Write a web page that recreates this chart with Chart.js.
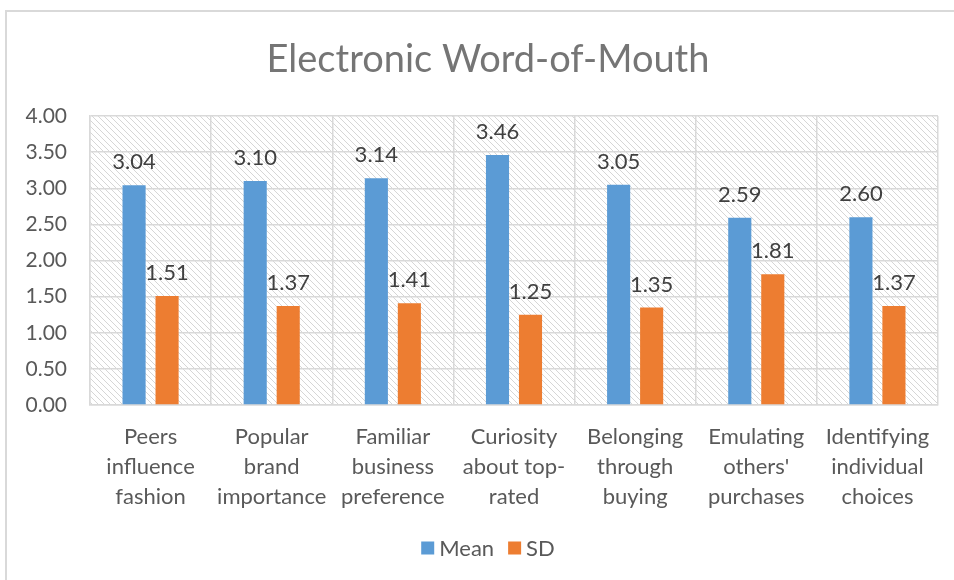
<!DOCTYPE html>
<html>
<head>
<meta charset="utf-8">
<script src="https://cdn.jsdelivr.net/npm/chart.js@4.4.1/dist/chart.umd.min.js"></script>
<style>
  html, body { margin: 0; padding: 0; background: #fff; }
  #wrap { position: absolute; left: 0; top: 0; width: 954px; height: 580px; }
  #frame { position: absolute; left: 5px; top: 10px; width: 1000px; height: 700px; border-left: 2px solid #d9d9d9; border-top: 2px solid #d9d9d9; box-sizing: border-box; pointer-events: none; }
  canvas { position: absolute; left: 0; top: 0; }
</style>
</head>
<body>
<div id="wrap">
  <canvas id="c" width="954" height="580"></canvas>
  <div id="frame"></div>
</div>
<script>
const chartTitle = 'Electronic Word-of-Mouth';
const categories = [
  ["Peers", "influence", "fashion"],
  ["Popular", "brand", "importance"],
  ["Familiar", "business", "preference"],
  ["Curiosity", "about top-", "rated"],
  ["Belonging", "through", "buying"],
  ["Emulating", "others'", "purchases"],
  ["Identifying", "individual", "choices"]
];
const meanValues = [3.04, 3.10, 3.14, 3.46, 3.05, 2.59, 2.60];
const sdValues = [1.51, 1.37, 1.41, 1.25, 1.35, 1.81, 1.37];
const yTicks = [0, 0.5, 1, 1.5, 2, 2.5, 3, 3.5, 4];
const seriesNames = ['Mean', 'SD'];
const seriesColors = ['#5B9BD5', '#ED7D31'];

const FONT = "Lato, 'Open Sans', sans-serif";
const TEXT = '#595959';
const CENTER_X = 488;

function makeHatch() {
  const s = 6;
  const p = document.createElement('canvas');
  p.width = s; p.height = s;
  const g = p.getContext('2d');
  g.fillStyle = '#ffffff';
  g.fillRect(0, 0, s, s);
  g.strokeStyle = '#d6d6d6';
  g.lineWidth = 1;
  g.beginPath();
  g.moveTo(0, 0); g.lineTo(s, s);
  g.moveTo(-s, 0); g.lineTo(s, 2 * s);
  g.moveTo(0, -s); g.lineTo(2 * s, s);
  g.stroke();
  return p;
}

const hatchPlugin = {
  id: 'hatch',
  beforeDraw(chart) {
    const { ctx, chartArea: a } = chart;
    ctx.save();
    ctx.fillStyle = ctx.createPattern(makeHatch(), 'repeat');
    ctx.fillRect(a.left, a.top, a.right - a.left, a.bottom - a.top);
    ctx.restore();
  }
};

const labelPlugin = {
  id: 'valLabels',
  afterDatasetsDraw(chart) {
    const { ctx } = chart;
    ctx.save();
    ctx.font = "22px " + FONT;
    ctx.fillStyle = '#404040';
    ctx.textAlign = 'center';
    ctx.textBaseline = 'middle';
    chart.data.datasets.forEach((ds, i) => {
      chart.getDatasetMeta(i).data.forEach((bar, j) => {
        ctx.fillText(ds.data[j].toFixed(2), bar.x, bar.y - 23);
      });
    });
    ctx.restore();
  }
};

const titleLegendPlugin = {
  id: 'titleLegend',
  afterDraw(chart) {
    const { ctx } = chart;
    ctx.save();
    // title
    ctx.font = "38px " + FONT;
    ctx.fillStyle = '#757575';
    ctx.textAlign = 'center';
    ctx.textBaseline = 'middle';
    ctx.fillText(chartTitle, CENTER_X, 60);
    // legend
    ctx.font = "22px " + FONT;
    ctx.textAlign = 'left';
    const y = 548, box = 13, gap = 5, itemGap = 14;
    const widths = chart.data.datasets.map(ds => box + gap + ctx.measureText(ds.label).width);
    const total = widths.reduce((a, b) => a + b, 0) + itemGap * (widths.length - 1);
    let x = CENTER_X - total / 2;
    chart.data.datasets.forEach((ds, i) => {
      ctx.fillStyle = ds.backgroundColor;
      ctx.fillRect(x, y - box / 2, box, box);
      ctx.fillStyle = TEXT;
      ctx.fillText(ds.label, x + box + gap, y + 1);
      x += widths[i] + itemGap;
    });
    ctx.restore();
  }
};

new Chart(document.getElementById('c'), {
  type: 'bar',
  data: {
    labels: categories,
    datasets: [
      { label: seriesNames[0], data: meanValues, backgroundColor: seriesColors[0], categoryPercentage: 0.545, barPercentage: 0.7 },
      { label: seriesNames[1], data: sdValues, backgroundColor: seriesColors[1], categoryPercentage: 0.545, barPercentage: 0.7 }
    ]
  },
  plugins: [hatchPlugin, labelPlugin, titleLegendPlugin],
  options: {
    responsive: false,
    animation: false,
    devicePixelRatio: 1,
    layout: { padding: { left: 0, right: 16, top: 116, bottom: 54 } },
    plugins: {
      title: { display: false },
      legend: { display: false },
      tooltip: { enabled: false }
    },
    scales: {
      x: {
        grid: { color: '#d9d9d9', lineWidth: 1.5, drawTicks: false, offset: true },
        border: { color: '#d9d9d9', width: 1.5 },
        ticks: { color: TEXT, font: { family: FONT, size: 22, lineHeight: 1.36 }, padding: 17, maxRotation: 0, autoSkip: false },
        afterFit(scale) { scale.height = 121; }
      },
      y: {
        min: 0, max: 4,
        afterBuildTicks(scale) { scale.ticks = yTicks.map(v => ({ value: v })); },
        grid: { color: '#d9d9d9', lineWidth: 1.5, drawTicks: false },
        border: { color: '#d9d9d9', width: 1.5 },
        ticks: { color: TEXT, font: { family: FONT, size: 21 }, padding: 23, callback: v => Number(v).toFixed(2) },
        afterFit(scale) { scale.width = 90; }
      }
    }
  }
});
</script>
</body>
</html>
